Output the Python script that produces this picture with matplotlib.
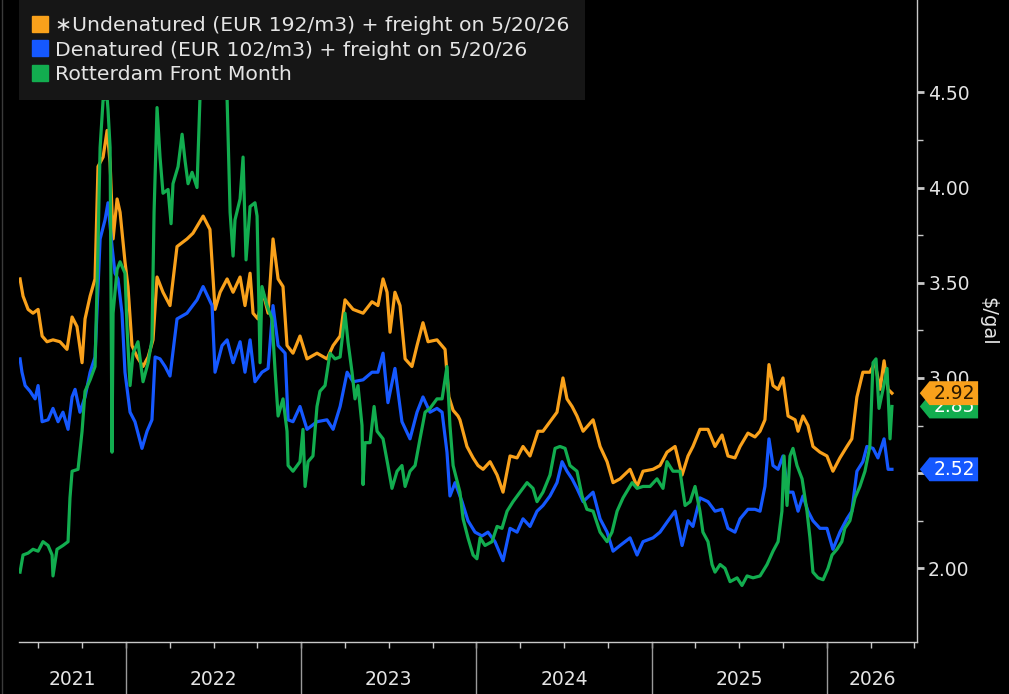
import numpy as np
import matplotlib.pyplot as plt
from matplotlib import transforms
from matplotlib.lines import Line2D
from matplotlib.patches import Polygon

# dates as decimal years, prices in $/gal
undenat_t = [2021.395, 2021.412, 2021.441, 2021.469, 2021.498, 2021.521, 2021.549, 2021.583, 2021.623, 2021.663,
             2021.692, 2021.720, 2021.749, 2021.766, 2021.795, 2021.823, 2021.840, 2021.869, 2021.892, 2021.909,
             2021.926, 2021.949, 2021.966, 2021.994, 2022.011, 2022.034, 2022.063, 2022.097, 2022.126, 2022.154,
             2022.177, 2022.211, 2022.251, 2022.291, 2022.348, 2022.382, 2022.440, 2022.479, 2022.508, 2022.537,
             2022.577, 2022.611, 2022.651, 2022.679, 2022.708, 2022.725, 2022.753, 2022.782, 2022.811, 2022.839,
             2022.868, 2022.896, 2022.919, 2022.953, 2022.993, 2023.033, 2023.090, 2023.147, 2023.182, 2023.222,
             2023.250, 2023.296, 2023.353, 2023.404, 2023.438, 2023.467, 2023.490, 2023.507, 2023.535, 2023.564,
             2023.593, 2023.632, 2023.661, 2023.695, 2023.724, 2023.775, 2023.821, 2023.843, 2023.867, 2023.895,
             2023.906, 2023.946, 2023.981, 2024.009, 2024.038, 2024.078, 2024.118, 2024.152, 2024.192, 2024.232,
             2024.266, 2024.306, 2024.352, 2024.380, 2024.420, 2024.460, 2024.494, 2024.517, 2024.546, 2024.574,
             2024.609, 2024.666, 2024.706, 2024.746, 2024.780, 2024.820, 2024.877, 2024.917, 2024.951, 2025.008,
             2025.048, 2025.088, 2025.134, 2025.174, 2025.208, 2025.236, 2025.276, 2025.322, 2025.362, 2025.402,
             2025.436, 2025.476, 2025.505, 2025.550, 2025.590, 2025.619, 2025.647, 2025.670, 2025.693, 2025.722,
             2025.750, 2025.779, 2025.819, 2025.836, 2025.864, 2025.893, 2025.921, 2025.961, 2026.001, 2026.035,
             2026.075, 2026.115, 2026.143, 2026.172, 2026.206, 2026.246, 2026.275, 2026.304, 2026.327, 2026.350,
             2026.372]
undenat_v = [3.52, 3.43, 3.36, 3.34, 3.36, 3.22, 3.19, 3.20, 3.19, 3.15,
             3.32, 3.27, 3.08, 3.31, 3.43, 3.52, 4.11, 4.16, 4.30, 4.13,
             3.73, 3.94, 3.87, 3.61, 3.48, 3.17, 3.11, 3.06, 3.11, 3.20,
             3.53, 3.45, 3.38, 3.69, 3.73, 3.76, 3.85, 3.78, 3.36, 3.45,
             3.52, 3.45, 3.53, 3.38, 3.55, 3.34, 3.31, 3.45, 3.34, 3.73,
             3.52, 3.48, 3.17, 3.13, 3.22, 3.10, 3.13, 3.10, 3.17, 3.22,
             3.41, 3.36, 3.34, 3.40, 3.38, 3.52, 3.45, 3.24, 3.45, 3.38,
             3.10, 3.06, 3.17, 3.29, 3.19, 3.20, 3.15, 2.90, 2.83, 2.80,
             2.78, 2.64, 2.58, 2.54, 2.52, 2.56, 2.49, 2.40, 2.59, 2.58,
             2.64, 2.59, 2.72, 2.72, 2.77, 2.82, 3.00, 2.89, 2.85, 2.80,
             2.72, 2.78, 2.64, 2.56, 2.45, 2.47, 2.52, 2.43, 2.51, 2.52,
             2.54, 2.61, 2.64, 2.49, 2.59, 2.64, 2.73, 2.73, 2.64, 2.70,
             2.59, 2.58, 2.64, 2.71, 2.69, 2.72, 2.78, 3.07, 2.96, 2.94,
             3.00, 2.80, 2.78, 2.72, 2.80, 2.75, 2.64, 2.61, 2.59, 2.51,
             2.58, 2.64, 2.68, 2.90, 3.03, 3.03, 3.08, 2.94, 3.09, 2.94,
             2.92]

denat_t = [2021.395, 2021.406, 2021.424, 2021.452, 2021.481, 2021.498, 2021.521, 2021.555, 2021.583, 2021.612,
           2021.640, 2021.669, 2021.692, 2021.709, 2021.737, 2021.766, 2021.795, 2021.823, 2021.852, 2021.880,
           2021.897, 2021.920, 2021.937, 2021.954, 2021.977, 2021.994, 2022.023, 2022.051, 2022.091, 2022.120,
           2022.148, 2022.166, 2022.194, 2022.223, 2022.251, 2022.291, 2022.348, 2022.405, 2022.440, 2022.491,
           2022.508, 2022.548, 2022.577, 2022.611, 2022.651, 2022.679, 2022.708, 2022.736, 2022.776, 2022.811,
           2022.839, 2022.868, 2022.908, 2022.925, 2022.953, 2022.993, 2023.033, 2023.090, 2023.147, 2023.182,
           2023.222, 2023.262, 2023.296, 2023.353, 2023.404, 2023.438, 2023.467, 2023.495, 2023.535, 2023.575,
           2023.621, 2023.661, 2023.695, 2023.735, 2023.775, 2023.804, 2023.832, 2023.849, 2023.878, 2023.918,
           2023.952, 2023.992, 2024.032, 2024.066, 2024.106, 2024.152, 2024.192, 2024.232, 2024.266, 2024.306,
           2024.346, 2024.380, 2024.420, 2024.460, 2024.489, 2024.517, 2024.546, 2024.574, 2024.609, 2024.666,
           2024.706, 2024.746, 2024.780, 2024.820, 2024.877, 2024.917, 2024.951, 2025.008, 2025.048, 2025.094,
           2025.134, 2025.174, 2025.208, 2025.236, 2025.276, 2025.322, 2025.362, 2025.402, 2025.436, 2025.476,
           2025.505, 2025.550, 2025.590, 2025.619, 2025.647, 2025.670, 2025.693, 2025.722, 2025.750, 2025.779,
           2025.807, 2025.836, 2025.864, 2025.893, 2025.921, 2025.961, 2026.001, 2026.035, 2026.075, 2026.115,
           2026.143, 2026.172, 2026.206, 2026.229, 2026.264, 2026.292, 2026.327, 2026.350, 2026.372]
denat_v = [3.10, 3.03, 2.96, 2.93, 2.89, 2.96, 2.77, 2.78, 2.84, 2.77,
           2.82, 2.73, 2.90, 2.94, 2.82, 2.90, 3.03, 3.11, 3.73, 3.83,
           3.92, 3.69, 3.55, 3.52, 3.34, 3.03, 2.82, 2.77, 2.63, 2.72,
           2.78, 3.11, 3.10, 3.06, 3.01, 3.31, 3.34, 3.41, 3.48, 3.38,
           3.03, 3.17, 3.20, 3.08, 3.19, 3.03, 3.20, 2.98, 3.03, 3.05,
           3.38, 3.17, 3.13, 2.78, 2.77, 2.85, 2.73, 2.77, 2.78, 2.73,
           2.85, 3.03, 2.98, 2.99, 3.03, 3.03, 3.13, 2.87, 3.05, 2.77,
           2.68, 2.82, 2.90, 2.82, 2.84, 2.82, 2.61, 2.38, 2.45, 2.35,
           2.25, 2.19, 2.17, 2.19, 2.14, 2.04, 2.21, 2.19, 2.26, 2.22,
           2.30, 2.33, 2.38, 2.45, 2.56, 2.51, 2.47, 2.42, 2.35, 2.40,
           2.26, 2.19, 2.09, 2.12, 2.16, 2.07, 2.14, 2.16, 2.19, 2.25,
           2.30, 2.12, 2.25, 2.22, 2.37, 2.35, 2.30, 2.31, 2.21, 2.19,
           2.26, 2.31, 2.31, 2.30, 2.43, 2.68, 2.54, 2.52, 2.59, 2.40,
           2.40, 2.30, 2.38, 2.30, 2.25, 2.21, 2.21, 2.10, 2.19, 2.26,
           2.30, 2.51, 2.56, 2.64, 2.63, 2.58, 2.68, 2.52, 2.52]

rotterdam_t = [2021.395, 2021.412, 2021.441, 2021.469, 2021.498, 2021.526, 2021.555, 2021.578, 2021.583, 2021.606,
               2021.640, 2021.669, 2021.680, 2021.692, 2021.726, 2021.749, 2021.766, 2021.795, 2021.823, 2021.840,
               2021.852, 2021.869, 2021.892, 2021.897, 2021.909, 2021.920, 2021.926, 2021.949, 2021.966, 2021.994,
               2022.006, 2022.023, 2022.040, 2022.068, 2022.097, 2022.126, 2022.148, 2022.160, 2022.177, 2022.194,
               2022.211, 2022.240, 2022.257, 2022.268, 2022.297, 2022.320, 2022.337, 2022.354, 2022.377, 2022.405,
               2022.422, 2022.440, 2022.451, 2022.462, 2022.491, 2022.519, 2022.554, 2022.577, 2022.594, 2022.611,
               2022.622, 2022.651, 2022.668, 2022.685, 2022.708, 2022.736, 2022.748, 2022.765, 2022.776, 2022.805,
               2022.833, 2022.850, 2022.868, 2022.896, 2022.919, 2022.925, 2022.953, 2022.993, 2023.010, 2023.022,
               2023.039, 2023.067, 2023.090, 2023.107, 2023.136, 2023.164, 2023.193, 2023.222, 2023.250, 2023.267,
               2023.290, 2023.307, 2023.324, 2023.347, 2023.353, 2023.364, 2023.393, 2023.416, 2023.433, 2023.467,
               2023.495, 2023.518, 2023.547, 2023.575, 2023.593, 2023.621, 2023.650, 2023.678, 2023.707, 2023.735,
               2023.775, 2023.804, 2023.832, 2023.849, 2023.867, 2023.906, 2023.924, 2023.952, 2023.981, 2024.003,
               2024.021, 2024.049, 2024.089, 2024.118, 2024.146, 2024.175, 2024.209, 2024.249, 2024.289, 2024.323,
               2024.346, 2024.380, 2024.420, 2024.449, 2024.477, 2024.506, 2024.534, 2024.574, 2024.603, 2024.631,
               2024.666, 2024.706, 2024.746, 2024.774, 2024.803, 2024.837, 2024.889, 2024.917, 2024.951, 2024.991,
               2025.031, 2025.065, 2025.088, 2025.122, 2025.162, 2025.191, 2025.220, 2025.248, 2025.276, 2025.293,
               2025.322, 2025.345, 2025.362, 2025.391, 2025.419, 2025.448, 2025.488, 2025.516, 2025.545, 2025.579,
               2025.619, 2025.659, 2025.693, 2025.722, 2025.744, 2025.756, 2025.773, 2025.790, 2025.807, 2025.830,
               2025.859, 2025.887, 2025.904, 2025.921, 2025.950, 2025.979, 2026.007, 2026.030, 2026.058, 2026.086,
               2026.103, 2026.132, 2026.161, 2026.189, 2026.218, 2026.246, 2026.264, 2026.281, 2026.298, 2026.321,
               2026.344, 2026.361, 2026.372]
rotterdam_v = [1.98, 2.07, 2.08, 2.10, 2.09, 2.14, 2.12, 2.07, 1.96, 2.10,
               2.12, 2.14, 2.37, 2.51, 2.52, 2.72, 2.93, 2.99, 3.06, 3.69,
               4.21, 4.46, 4.47, 4.41, 4.21, 2.61, 3.34, 3.57, 3.61, 3.55,
               3.26, 2.96, 3.13, 3.19, 2.98, 3.08, 3.20, 3.87, 4.42, 4.16,
               3.97, 3.99, 3.81, 4.02, 4.11, 4.28, 4.14, 4.02, 4.08, 4.00,
               4.47, 4.65, 4.72, 4.55, 4.60, 4.68, 4.51, 4.46, 3.87, 3.64,
               3.83, 3.94, 4.16, 3.62, 3.90, 3.92, 3.85, 3.08, 3.48, 3.38,
               3.31, 3.05, 2.80, 2.89, 2.72, 2.54, 2.51, 2.56, 2.73, 2.43,
               2.56, 2.59, 2.85, 2.93, 2.96, 3.13, 3.10, 3.11, 3.34, 3.19,
               3.03, 2.89, 2.96, 2.75, 2.44, 2.66, 2.66, 2.85, 2.72, 2.68,
               2.54, 2.42, 2.51, 2.54, 2.43, 2.51, 2.54, 2.68, 2.82, 2.84,
               2.89, 2.89, 3.06, 2.75, 2.54, 2.40, 2.26, 2.16, 2.07, 2.05,
               2.16, 2.12, 2.14, 2.22, 2.21, 2.30, 2.35, 2.40, 2.45, 2.42,
               2.35, 2.40, 2.49, 2.63, 2.64, 2.63, 2.54, 2.51, 2.38, 2.31,
               2.30, 2.19, 2.14, 2.19, 2.30, 2.37, 2.45, 2.42, 2.43, 2.43,
               2.47, 2.42, 2.56, 2.51, 2.51, 2.33, 2.35, 2.43, 2.30, 2.19,
               2.14, 2.02, 1.98, 2.02, 2.00, 1.93, 1.95, 1.91, 1.96, 1.95,
               1.96, 2.02, 2.09, 2.14, 2.30, 2.59, 2.33, 2.59, 2.63, 2.54,
               2.47, 2.30, 2.16, 1.98, 1.95, 1.94, 2.00, 2.07, 2.10, 2.14,
               2.21, 2.25, 2.37, 2.43, 2.51, 2.64, 3.08, 3.10, 2.84, 2.94,
               3.05, 2.68, 2.85]

labels = ['\u2217Undenatured (EUR 192/m3) + freight on 5/20/26',
          'Denatured (EUR 102/m3) + freight on 5/20/26',
          'Rotterdam Front Month']
colors = ['#f9a11b', '#1558ff', '#12ad4f']
years = [2021, 2022, 2023, 2024, 2025, 2026]
y_ticks = [2.0, 2.5, 3.0, 3.5, 4.0, 4.5]

plt.rcParams['font.family'] = 'DejaVu Sans'
TXT = '#e4e4e4'

fig = plt.figure(figsize=(10.09, 6.94), dpi=100, facecolor='black')
ax = fig.add_axes([19 / 1009, 52 / 694, 898 / 1009, 642 / 694])
ax.set_facecolor('black')

series = [(undenat_t, undenat_v), (denat_t, denat_v), (rotterdam_t, rotterdam_v)]
for (t, v), c in zip(series, colors):
    ax.plot(t, v, color=c, lw=2.3, solid_joinstyle='round', zorder=3)

ax.set_xlim(2021.389, 2026.515)
ax.set_ylim(1.613, 4.985)

for s in ['top', 'left']:
    ax.spines[s].set_visible(False)
for s in ['bottom', 'right']:
    ax.spines[s].set_color('#c8c8c8')
    ax.spines[s].set_linewidth(1.0)

# y axis on the right
ax.yaxis.tick_right()
ax.set_yticks(y_ticks)
ax.set_yticklabels([f'{y:.2f}' for y in y_ticks])
ax.set_yticks(np.array(y_ticks[:-1]) + 0.25, minor=True)
ax.tick_params(axis='y', which='major', colors='#c8c8c8', labelcolor=TXT, labelsize=13.5, length=5, width=2, pad=3)
ax.tick_params(axis='y', which='minor', colors='#c8c8c8', length=4, width=1)
ax.yaxis.set_label_position('right')
ax.set_ylabel(r'\$/gal', color=TXT, fontsize=14, rotation=270, labelpad=20)

# x axis: quarter ticks, year separators, centred year labels
x0, x1 = ax.get_xlim()
quarters = [q for q in np.arange(2021.0, 2027.0, 0.25) if x0 < q < x1]
ax.set_xticks(quarters)
ax.set_xticklabels([])
ax.tick_params(axis='x', which='major', colors='#c8c8c8', length=4, width=1)
for y in years:
    if x0 < y < x1:
        ax.axvline(y, ymin=-0.082, ymax=0, color='#9a9a9a', lw=1, clip_on=False)
    mid = (max(y, x0) + min(y + 1, x1)) / 2
    ax.text(mid, -0.059, str(y), transform=ax.get_xaxis_transform(), ha='center', va='center',
            color=TXT, fontsize=13.5)

# legend
handles = [Line2D([], [], marker='s', ls='none', ms=11, color=c) for c in colors]
leg = ax.legend(handles, labels, loc='upper left', bbox_to_anchor=(0.0, 1.0), fontsize=14.7,
                handlelength=0.5, handletextpad=0.45, labelspacing=0.26, borderpad=0.8,
                borderaxespad=0.0, fancybox=False, framealpha=1)
leg.get_frame().set_facecolor('#161616')
leg.get_frame().set_edgecolor('none')
for txt in leg.get_texts():
    txt.set_color(TXT)
leg.set_zorder(8)

# last value tags on the right axis
blend = transforms.blended_transform_factory(ax.transAxes, ax.transData)


def value_tag(value, face, text_color, z):
    tr = transforms.Affine2D().scale(fig.dpi / 72) + transforms.ScaledTranslation(1, value, blend)
    pts = [(2, 0), (9, 8.6), (44, 8.6), (44, -8.6), (9, -8.6)]
    ax.add_patch(Polygon(pts, closed=True, transform=tr, facecolor=face, edgecolor='none',
                         clip_on=False, zorder=z))
    ax.text(27, -0.3, f'{value:.2f}', transform=tr, ha='center', va='center', color=text_color,
            fontsize=13.5, zorder=z, clip_on=False)


value_tag(rotterdam_v[-1], colors[2], 'white', 6)
value_tag(undenat_v[-1], colors[0], '#2a1800', 7)
value_tag(denat_v[-1], colors[1], 'white', 7)

fig.add_artist(Line2D([0.0015, 0.0015], [0, 1], transform=fig.transFigure, color='#3a3a3a', lw=1))

fig.savefig('out.png', dpi=100, facecolor='black')
